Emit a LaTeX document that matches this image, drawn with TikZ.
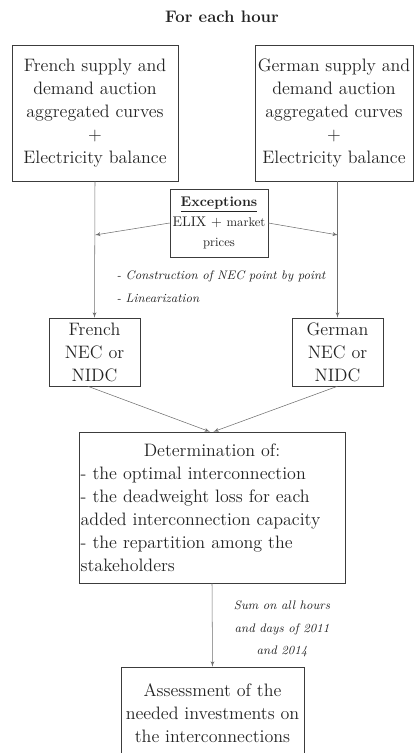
\documentclass[tikz,border=0pt]{standalone}
\usepackage{xcolor}
\usepackage{tikz}
\usetikzlibrary{positioning,arrows}

\definecolor{linegray}{RGB}{110,110,110}
\definecolor{boxgray}{RGB}{60,60,60}
\definecolor{textgray}{RGB}{35,35,35}

\begin{document}
\begin{tikzpicture}
                [
                x=0.75pt, y=-0.75pt,
                block/.style={draw=boxgray,thin,align=center,inner sep=1pt,text=textgray,
                  font=\fontsize{13.5}{17.25}\selectfont},
                note/.style={text=textgray,align=center,font=\fontsize{9.3}{17}\selectfont\itshape},
                edge/.style={->,> = latex',draw=linegray,thin}
                ]
            \useasboundingbox (0,0) rectangle (414,753);
            \node[text=textgray,font=\fontsize{12.5}{14}\selectfont\bfseries] (title) at (222,17) {For each hour};
            \node[block,minimum width=124.5pt,minimum height=102pt] (frcurves) at (95,113)
                {French supply and\\demand auction\\aggregated curves\\+\\Electricity balance};
            \node[block,minimum width=118.5pt,minimum height=102pt] (decurves) at (334,113)
                {German supply and\\demand auction\\aggregated curves\\+\\Electricity balance};
            \node[block,minimum width=73.5pt,minimum height=51pt,font=\fontsize{10.5}{15}\selectfont] (exc) at (219,223)
                {\underline{\textbf{Exceptions}}\\ELIX + {\fontsize{9.5}{15}\selectfont market}\\{\fontsize{9.5}{15}\selectfont prices}};
            \node[block,minimum width=68.25pt,minimum height=51pt] (frnec) at (94.5,352) {French\\NEC or\\NIDC};
            \node[block,minimum width=68.25pt,minimum height=51pt] (denec) at (337.5,352) {German\\NEC or\\NIDC};
            \node[block,minimum width=199.5pt,minimum height=113.25pt,text width=197pt,align=left] (det) at (212,507.5)
                {\makebox[197pt]{Determination of:}\\- the optimal interconnection\\- the deadweight loss for each\\added interconnection capacity\\- the repartition among the\\stakeholders};
            \node[block,minimum width=137.25pt,minimum height=69pt] (assess) at (212.5,713)
                {Assessment of the\\needed investments on\\the interconnections};
            \node[note,align=left] (constr) at (221,287)
                {- Construction of NEC point by point\\- Linearization};
            \node[note] (sum) at (282,629) {Sum on all hours\\and days of 2011\\and 2014};
            \coordinate (frjoin) at (95,235);
            \coordinate (dejoin) at (338,235);
            \draw[edge] (frcurves.south) -- (frnec.north);
            \draw[edge] (denec.north |- decurves.south) -- (denec.north);
            \draw[edge] (exc.west) -- (frjoin);
            \draw[edge] (exc.east) -- (dejoin);
            \draw[edge] ([xshift=-5pt]frnec.south) -- ([xshift=-1.5pt]det.north);
            \draw[edge] (denec.south) -- ([xshift=1pt]det.north);
            \draw[edge] (det.south) -- (assess.north);
            \end{tikzpicture}
\end{document}
